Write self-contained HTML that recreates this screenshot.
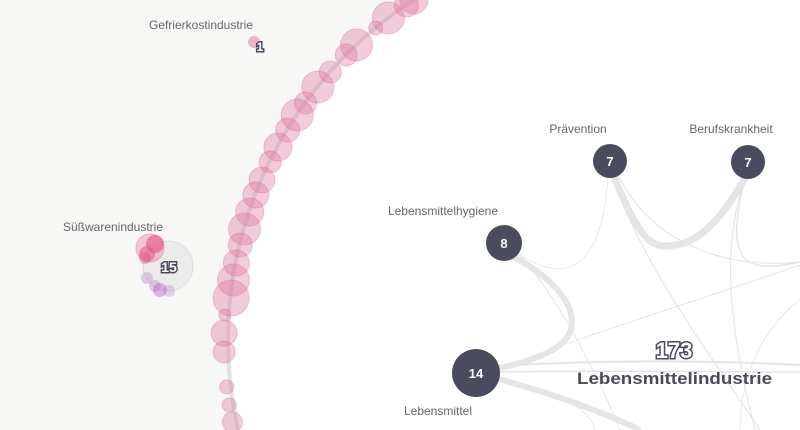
<!DOCTYPE html>
<html><head><meta charset="utf-8"><style>
html,body{margin:0;padding:0;background:#fff;width:800px;height:430px;overflow:hidden}
svg{display:block;font-family:"Liberation Sans",sans-serif}
.lbl{font-size:12px;fill:#666}
</style></head><body>
<svg width="800" height="430" viewBox="0 0 800 430">
<rect width="800" height="430" fill="#f7f7f5"/>
<circle cx="632" cy="340" r="406" fill="#ffffff"/>
<circle cx="632" cy="340" r="404" fill="none" stroke="#e2e2e2" stroke-width="4"/>
<g id="links" fill="none" stroke="#e4e5e4">
<path d="M612,172 C640,240 650,250 676,245 C710,240 735,195 747,175" stroke-width="7"/>
<path d="M510,255 C560,280 590,320 560,345 C540,360 505,367 490,370" stroke-width="6"/>
<path d="M495,378 C540,390 600,410 640,430" stroke-width="6"/>
<path d="M495,366 C600,360 700,360 800,365" stroke-width="2"/>
<path d="M495,372 C600,370 700,372 800,372" stroke-width="1.5"/>
<path d="M495,370 C600,330 700,300 800,265" stroke-width="1"/>
<path d="M612,175 C640,260 700,340 760,430" stroke-width="1.2"/>
<path d="M618,175 C650,240 720,270 800,262" stroke-width="1.2"/>
<path d="M745,178 C720,250 730,330 755,430" stroke-width="1.2"/>
<path d="M745,178 C725,260 740,275 800,262" stroke-width="1.5"/>
<path d="M520,255 C560,280 600,280 608,178" stroke-width="0.8"/>
<path d="M520,255 C560,300 600,380 620,430" stroke-width="1"/>
<path d="M800,300 C760,330 740,380 740,430" stroke-width="0.8"/>
<path d="M495,380 C560,390 590,410 595,430" stroke-width="0.8"/>
</g>
<g id="bubbles"></g>
<g>
<circle cx="168" cy="266" r="25" fill="#ebebea" stroke="#ddd"/>
<circle cx="150" cy="248" r="14" fill="rgba(230,110,150,0.35)" stroke="rgba(220,90,140,0.4)"/>
<circle cx="155" cy="244" r="9" fill="rgba(230,80,130,0.6)"/>
<circle cx="147" cy="254" r="8" fill="rgba(230,80,130,0.5)"/>
<circle cx="145" cy="258" r="6" fill="rgba(230,80,130,0.4)"/>
<circle cx="147" cy="278" r="6" fill="rgba(180,120,200,0.35)"/>
<circle cx="155" cy="286" r="6" fill="rgba(180,120,200,0.35)"/>
<circle cx="160" cy="290" r="7" fill="rgba(170,90,190,0.4)"/>
<circle cx="169" cy="291" r="6" fill="rgba(180,120,200,0.3)"/>
<text x="169" y="272" font-size="14" font-weight="bold" text-anchor="middle" fill="#fff" stroke="#4a4a5e" stroke-width="3" paint-order="stroke">15</text>
<text x="113" y="231" class="lbl" text-anchor="middle">Süßwarenindustrie</text>
</g>
<g>
<circle cx="254" cy="42" r="6" fill="rgba(220,100,150,0.45)"/>
<text x="260" y="51" font-size="12" font-weight="bold" text-anchor="middle" fill="#fff" stroke="#4a4a5e" stroke-width="3" paint-order="stroke">1</text>
<text x="201" y="29" class="lbl" text-anchor="middle">Gefrierkostindustrie</text>
</g>
<g fill="#4b4b5f">
<circle cx="610" cy="161" r="17"/>
<circle cx="748" cy="162" r="17"/>
<circle cx="504" cy="243" r="18"/>
<circle cx="476" cy="373" r="24"/>
</g>
<g fill="#fff" font-weight="bold" text-anchor="middle" font-size="13">
<text x="610" y="166">7</text><text x="748" y="167">7</text><text x="504" y="248">8</text><text x="476" y="378">14</text>
</g>
<g class="lbl" text-anchor="middle">
<text x="578" y="133" class="lbl" text-anchor="middle">Prävention</text>
<text x="731" y="133" class="lbl" text-anchor="middle">Berufskrankheit</text>
<text x="443" y="215" class="lbl" text-anchor="middle">Lebensmittelhygiene</text>
<text x="438" y="415" class="lbl" text-anchor="middle">Lebensmittel</text>
</g>
<text x="674" y="358" font-size="22" font-weight="bold" text-anchor="middle" fill="#fff" stroke="#4a4a5e" stroke-width="3" paint-order="stroke">173</text>
<text x="577" y="384" font-size="17" font-weight="bold" textLength="195" lengthAdjust="spacingAndGlyphs" fill="#4a4a55">Lebensmittelindustrie</text>
</svg>
<script>
const bubbleY=[0,5,18,28,45,55,72,87,103,115,130,147,162,180,195,212,229,245,263,280,298,315,333,352,387,405,422];
const bubbleR=[14,12,16,7,16,11,11,16,11,16,12,14,11,13,13,14,16,12,13,16,18,6,13,11,7,7,10];
const g=document.getElementById('bubbles');
const cx=632,cy=340,R=405;
bubbleY.forEach((y,i)=>{
  const dy=y-cy;
  const x=cx-Math.sqrt(R*R-dy*dy)+(y>300?-3:2);
  const c=document.createElementNS('http://www.w3.org/2000/svg','circle');
  c.setAttribute('cx',x);c.setAttribute('cy',y);c.setAttribute('r',bubbleR[i]);
  c.setAttribute('fill','rgba(220,110,155,0.35)');
  c.setAttribute('stroke','rgba(215,100,150,0.35)');
  
  
  g.appendChild(c);
});
</script>
</body></html>
